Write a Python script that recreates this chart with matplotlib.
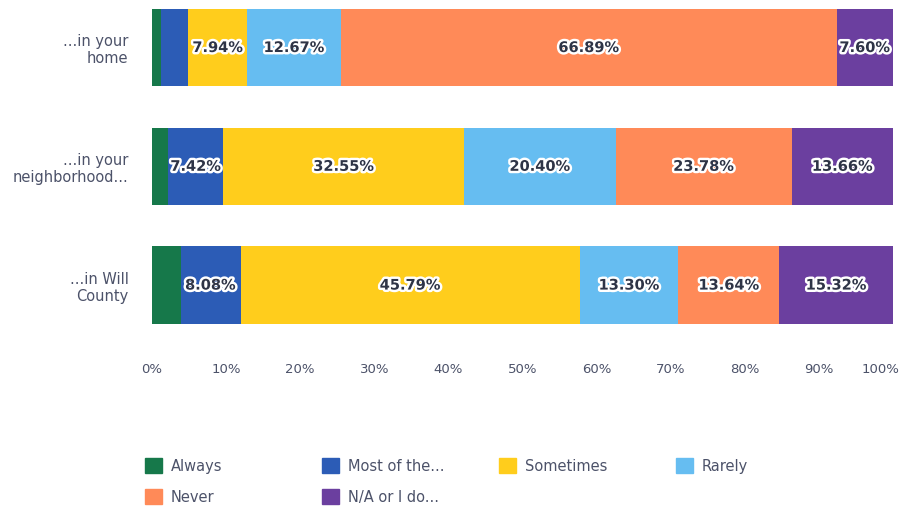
import matplotlib.pyplot as plt
import matplotlib.patheffects as pe
import matplotlib.transforms as mtransforms
from matplotlib.patches import Patch
import numpy as np

categories = ['...in your\nhome', '...in your\nneighborhood...', '...in Will\nCounty']
series_names = ['Always', 'Most of the...', 'Sometimes', 'Rarely', 'Never', 'N/A or I do...']
always = [1.22, 2.19, 3.87]
most = [3.68, 7.42, 8.08]
sometimes = [7.94, 32.55, 45.79]
rarely = [12.67, 20.40, 13.30]
never = [66.89, 23.78, 13.64]
na = [7.60, 13.66, 15.32]
colors = ['#16784a', '#2c5cb6', '#ffcd1c', '#66bdf1', '#ff8a58', '#6b3f9f']
xticks = [0, 10, 20, 30, 40, 50, 60, 70, 80, 90, 100]

text_grey = '#4c5269'

fig = plt.figure(figsize=(9.08, 5.12), dpi=100)
ax = fig.add_axes([0.1674, 0.3504, 0.8161, 0.6496])

series = [always, most, sometimes, rarely, never, na]
y = np.arange(len(categories))
left = np.zeros(len(categories))
for name, vals, col in zip(series_names, series, colors):
    vals = np.array(vals)
    ax.barh(y, vals, left=left, height=0.65, color=col, label=name)
    for yi, (l, v) in enumerate(zip(left, vals)):
        if v >= 5:
            t = ax.text(l + v / 2, yi, '%.2f%%' % v, ha='center', va='center',
                        fontsize=10.5, fontweight='bold', color='#2e3446')
            t.set_path_effects([pe.withStroke(linewidth=3.5, foreground='white')])
    left += vals

ax.set_xlim(0, 100)
ax.set_ylim(2.4, -0.4)
ax.set_yticks(y)
ax.set_yticklabels(categories, fontsize=10.5, color=text_grey, ha='right')
ax.set_xticks(xticks)
ax.set_xticklabels(['%d%%' % v for v in xticks], fontsize=9.5, color=text_grey)
ax.tick_params(axis='y', length=0, pad=17)
ax.tick_params(axis='x', length=0, pad=22)
for s in ax.spines.values():
    s.set_visible(False)

# pull the last tick label in so it stays inside the figure
last = ax.get_xticklabels()[-1]
last.set_transform(last.get_transform() +
                   mtransforms.ScaledTranslation(-9 / 72.0, 0, fig.dpi_scale_trans))

# legend, one entry per slot on a 4-column grid
col_w = 177 / 908.0
for i, (name, col) in enumerate(zip(series_names, colors)):
    r, c = divmod(i, 4)
    fig.legend(handles=[Patch(facecolor=col, edgecolor=col)], labels=[name],
               loc='center left', bbox_to_anchor=(0.16 + c * col_w, 1 - (466 + r * 31) / 512.0),
               frameon=False, fontsize=10.5, labelcolor=text_grey,
               handlelength=1.15, handleheight=1.15, handletextpad=0.6,
               borderpad=0, borderaxespad=0)

fig.savefig('out.png', dpi=100)
